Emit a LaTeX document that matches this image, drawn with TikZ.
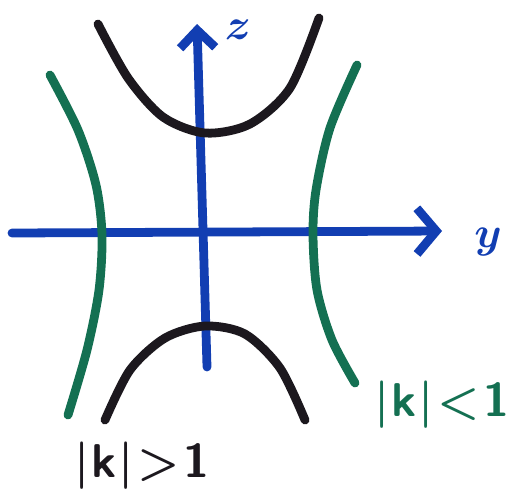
\documentclass[tikz,border=0pt]{standalone}
\usetikzlibrary{arrows.meta}
\definecolor{penblue}{RGB}{18,62,178}
\definecolor{pengreen}{RGB}{20,112,82}
\definecolor{penblack}{RGB}{28,24,30}

\begin{document}
\begin{tikzpicture}[x=0.02cm,y=-0.02cm,line cap=round,line join=round]
\tikzset{
  pen/.style={line width=5pt},
  axis/.style={pen,penblue},
  hand/.style={font=\fontsize{27}{30}\selectfont\sffamily\bfseries},
  axlab/.style={penblue,font=\fontsize{42}{44}\selectfont\boldmath}
}
\useasboundingbox (0,0) rectangle (519,491);
% ---------------- axes ----------------
\coordinate (ystart) at (12,233);
\coordinate (yend) at (442,231);
\coordinate (zstart) at (207,367);
\coordinate (zend) at (197,24);
\draw[axis,-{Straight Barb[length=11pt,width=26pt,line width=5pt]}] (ystart) -- (yend);
\draw[axis,-{Straight Barb[length=10pt,width=20pt,line width=5pt]}] (zstart) -- (zend);
\node[axlab] (zlab) at (238,30) {$z$};
\node[axlab] (ylab) at (488,242) {$y$};
% ---------------- |k|>1 : black branches ----------------
\draw[pen,penblack] plot[smooth] coordinates
  {(98,24) (128,78) (163,117) (205,133) (250,124) (290,88) (319,18)};
\draw[pen,penblack] plot[smooth] coordinates
  {(105,420) (130,370) (165,338) (205,326) (245,334) (280,368) (305,420)};
% ---------------- |k|<1 : green branches ----------------
\draw[pen,pengreen] plot[smooth] coordinates
  {(50,75) (78,130) (96,185) (102,235) (99,290) (87,350) (68,415)};
\draw[pen,pengreen] plot[smooth] coordinates
  {(357,65) (330,128) (316,190) (313,235) (317,290) (332,340) (355,383)};
% ---------------- labels ----------------
\node[pengreen,hand] (klt) at (442,405) {|\kern1pt k\kern1pt|\kern2pt<\kern2pt1};
\node[penblack,hand] (kgt) at (142,466) {|\kern1pt k\kern1pt|\kern2pt>\kern2pt1};
\end{tikzpicture}
\end{document}
